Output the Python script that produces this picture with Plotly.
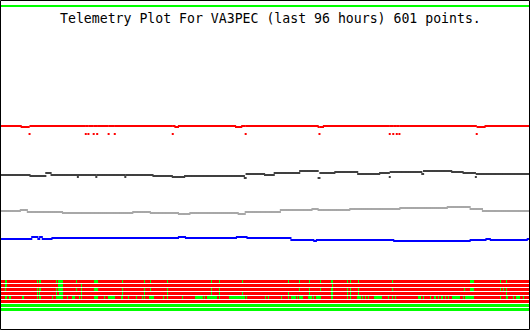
import plotly.graph_objects as go

N_POINTS = 601
TITLE = "Telemetry Plot For VA3PEC (last 96 hours) 601 points."

# Analog channels: step breakpoints (sample index where value changes, value)
green_steps = [(0, 255)]
red_steps = [(0, 135), (23, 134), (33, 135), (198, 134), (202, 135), (267, 134),
             (274, 135), (361, 134), (367, 135), (542, 134), (551, 135)]
# isolated low readings on the red channel (sample index, value)
red_dips = [(32, 127), (96, 127), (99, 127), (105, 127), (109, 127), (122, 127),
            (129, 127), (195, 127), (278, 127), (362, 127), (442, 127), (446, 127),
            (450, 127), (453, 127), (541, 127)]
black_steps = [(0, 86), (33, 85), (51, 88), (57, 86), (87, 84), (88, 86), (108, 84),
               (109, 86), (141, 84), (142, 86), (173, 85), (195, 84), (209, 85),
               (277, 83), (279, 87), (300, 86), (311, 88), (340, 90), (361, 83),
               (363, 88), (380, 89), (406, 87), (431, 88), (442, 84), (443, 89),
               (479, 87), (481, 90), (513, 89), (526, 88), (540, 84), (541, 87)]
gray_steps = [(0, 50), (22, 51), (30, 49), (70, 48), (150, 49), (170, 48), (202, 47),
              (215, 48), (270, 47), (278, 49), (318, 51), (354, 52), (361, 51),
              (397, 52), (454, 53), (508, 54), (534, 52), (548, 50)]
blue_steps = [(0, 22), (35, 24), (42, 22), (44, 24), (47, 22), (58, 23), (202, 24),
              (210, 23), (268, 24), (280, 23), (330, 21), (356, 20), (359, 21),
              (447, 20), (534, 21), (552, 22), (557, 21), (599, 22)]

# Digital bits: runs of "on" samples (start, end inclusive) per bit row, top to bottom
bit_on_runs = [
    [(5, 6), (41, 41), (43, 45), (63, 63), (65, 70), (85, 86), (106, 109), (138, 138),
     (163, 163), (170, 170), (177, 177), (189, 189), (239, 239), (248, 248), (274, 274),
     (327, 327), (339, 339), (351, 351), (363, 363), (376, 377), (394, 394), (397, 397),
     (406, 406), (445, 445), (534, 537), (539, 539), (568, 568), (575, 575)],
    [(5, 6), (45, 45), (65, 70), (91, 91), (377, 377)],
    [(5, 5), (41, 41), (43, 45), (63, 63), (65, 70), (85, 86), (91, 91), (106, 109),
     (138, 138), (163, 163), (170, 170), (177, 177), (189, 189), (239, 239), (248, 248),
     (339, 339), (351, 351), (363, 363), (376, 377), (394, 394), (397, 397), (406, 406),
     (445, 445), (465, 465), (527, 527), (534, 537), (539, 539), (568, 568), (571, 571),
     (575, 575)],
    [(41, 41), (43, 43), (63, 63), (66, 70), (91, 91), (138, 138), (163, 163), (177, 177),
     (189, 189), (239, 239), (248, 248), (274, 274), (327, 327), (351, 351), (376, 377),
     (394, 394), (397, 397), (406, 406), (575, 575)],
    [(5, 6), (9, 10), (24, 25), (41, 41), (43, 45), (58, 58), (61, 61), (63, 70),
     (75, 75), (81, 83), (86, 86), (89, 89), (91, 91), (106, 109), (117, 117),
     (119, 119), (122, 126), (128, 129), (137, 138), (145, 145), (154, 154), (161, 161),
     (163, 163), (169, 173), (177, 177), (184, 184), (189, 189), (206, 206), (221, 229),
     (231, 231), (234, 245), (248, 248), (259, 277), (279, 279), (301, 301), (304, 304),
     (319, 319), (327, 327), (330, 335), (337, 337), (339, 343), (350, 353), (355, 355),
     (358, 363), (376, 377), (394, 394), (397, 397), (405, 406), (408, 409), (411, 411),
     (414, 414), (418, 418), (425, 431), (433, 433), (441, 441), (445, 445), (449, 449),
     (475, 477), (480, 480), (488, 488), (493, 494), (497, 498), (501, 502), (505, 505),
     (509, 509), (513, 522), (526, 526), (528, 537), (539, 539), (568, 568), (575, 576),
     (583, 583), (586, 590), (594, 594)],
    [],
    [(0, 600)],
    [(0, 600)],
]


def expand_steps(steps, n=N_POINTS):
    vals = []
    for k, (start, v) in enumerate(steps):
        end = steps[k + 1][0] if k + 1 < len(steps) else n
        vals.extend([v] * (end - start))
    return vals


def expand_bits(runs, n=N_POINTS):
    row = [0] * n
    for a, b in runs:
        for i in range(a, b + 1):
            row[i] = 1
    return row


idx = list(range(N_POINTS))
red_vals = expand_steps(red_steps)
for i, v in red_dips:
    red_vals[i] = v

series = [
    ("#00ff00", expand_steps(green_steps)),
    ("#ff0000", red_vals),
    ("#404040", expand_steps(black_steps)),
    ("#a8a8a8", expand_steps(gray_steps)),
    ("#0000ff", expand_steps(blue_steps)),
]

fig = go.Figure()
for color, vals in series:
    fig.add_trace(go.Scatter(
        x=idx, y=vals, mode="markers",
        marker=dict(symbol="square", size=2, color=color, line=dict(width=0)),
        hoverinfo="skip", showlegend=False))

z = [expand_bits(r) for r in bit_on_runs]
fig.add_trace(go.Heatmap(
    x=idx, y=list(range(len(z))), z=z, zmin=0, zmax=1,
    colorscale=[[0, "#ff0000"], [1, "#00ff00"]], showscale=False,
    ygap=1, hoverinfo="skip", yaxis="y2"))

fig.update_layout(
    width=530, height=330,
    margin=dict(l=0, r=0, t=0, b=0),
    paper_bgcolor="white", plot_bgcolor="white",
    xaxis=dict(range=[-1.64, 601.64], visible=False, fixedrange=True),
    yaxis=dict(range=[-69, 261], visible=False, fixedrange=True, domain=[0, 1]),
    yaxis2=dict(range=[7.5, -0.5], visible=False, fixedrange=True,
                domain=[18 / 330, 50 / 330], anchor="x"),
    showlegend=False,
    annotations=[dict(
        text=TITLE, xref="paper", yref="paper", x=58 / 530, y=1 - 18 / 330,
        xanchor="left", yanchor="middle", showarrow=False,
        font=dict(family="DejaVu Sans Mono", size=13.2, color="black"))],
    shapes=[dict(type="rect", xref="paper", yref="paper",
                 x0=0.5 / 530, x1=529.5 / 530, y0=0.5 / 330, y1=1 - 0.5 / 330,
                 line=dict(color="black", width=1))],
)

fig.write_html("out.html", config={"displayModeBar": False, "staticPlot": True})
